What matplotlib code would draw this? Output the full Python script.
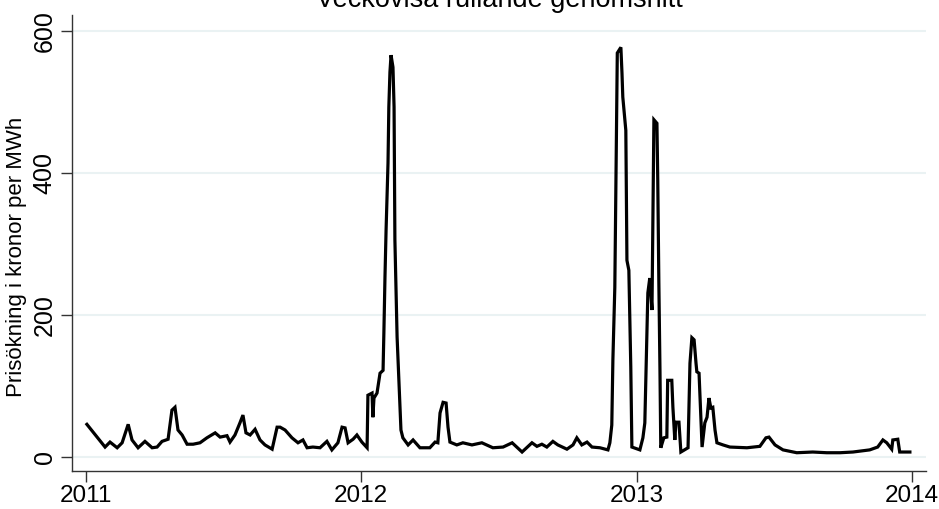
import matplotlib.pyplot as plt

# rolling weekly average
years = [2011.003, 2011.069, 2011.087, 2011.113, 2011.131, 2011.153, 2011.167, 2011.189,
         2011.214, 2011.240, 2011.258, 2011.276, 2011.298, 2011.312, 2011.323, 2011.334,
         2011.349, 2011.367, 2011.389, 2011.414, 2011.439, 2011.469, 2011.487, 2011.512,
         2011.523, 2011.541, 2011.559, 2011.570, 2011.581, 2011.596, 2011.614, 2011.632,
         2011.650, 2011.676, 2011.694, 2011.705, 2011.723, 2011.748, 2011.770, 2011.788,
         2011.803, 2011.824, 2011.850, 2011.875, 2011.893, 2011.915, 2011.930, 2011.941,
         2011.952, 2011.970, 2011.984, 2012.002, 2012.021, 2012.024, 2012.039, 2012.042,
         2012.046, 2012.057, 2012.068, 2012.079, 2012.082, 2012.086, 2012.090, 2012.097,
         2012.100, 2012.104, 2012.108, 2012.115, 2012.119, 2012.122, 2012.130, 2012.137,
         2012.144, 2012.151, 2012.170, 2012.188, 2012.213, 2012.249, 2012.268, 2012.278,
         2012.286, 2012.297, 2012.308, 2012.315, 2012.322, 2012.347, 2012.369, 2012.402,
         2012.438, 2012.478, 2012.515, 2012.548, 2012.584, 2012.620, 2012.638, 2012.656,
         2012.674, 2012.696, 2012.714, 2012.747, 2012.769, 2012.783, 2012.801, 2012.820,
         2012.838, 2012.867, 2012.896, 2012.903, 2012.910, 2012.914, 2012.921, 2012.925,
         2012.928, 2012.930, 2012.943, 2012.947, 2012.950, 2012.961, 2012.965, 2012.972,
         2012.979, 2012.983, 2013.012, 2013.023, 2013.030, 2013.038, 2013.041, 2013.048,
         2013.056, 2013.059, 2013.063, 2013.074, 2013.077, 2013.081, 2013.085, 2013.088,
         2013.099, 2013.110, 2013.113, 2013.128, 2013.132, 2013.139, 2013.143, 2013.154,
         2013.161, 2013.187, 2013.194, 2013.201, 2013.209, 2013.216, 2013.219, 2013.227,
         2013.238, 2013.248, 2013.256, 2013.263, 2013.270, 2013.277, 2013.285, 2013.292,
         2013.314, 2013.339, 2013.401, 2013.448, 2013.470, 2013.481, 2013.503, 2013.532,
         2013.582, 2013.640, 2013.691, 2013.739, 2013.786, 2013.847, 2013.876, 2013.895,
         2013.909, 2013.927, 2013.931, 2013.949, 2013.956, 2013.993]
prices = [46, 14, 21, 13, 20, 46, 24, 13,
          22, 13, 14, 22, 25, 66, 70, 38,
          31, 18, 18, 20, 27, 34, 28, 30,
          21, 31, 48, 59, 34, 31, 39, 24,
          17, 11, 42, 42, 38, 27, 20, 24,
          13, 14, 13, 22, 10, 20, 42, 41,
          20, 25, 31, 21, 13, 87, 90, 56,
          83, 90, 118, 122, 175, 254, 320, 414,
          493, 542, 566, 549, 493, 306, 169, 104,
          38, 27, 17, 24, 13, 13, 21, 20,
          62, 77, 76, 42, 21, 17, 20, 17,
          20, 13, 14, 20, 7, 20, 15, 18,
          14, 22, 17, 11, 17, 27, 17, 21,
          14, 13, 10, 20, 45, 137, 239, 390,
          517, 569, 577, 541, 507, 460, 277, 263,
          127, 14, 10, 27, 48, 179, 231, 252,
          207, 320, 475, 470, 390, 245, 123, 13,
          27, 28, 108, 108, 70, 24, 49, 49,
          7, 13, 132, 168, 165, 132, 120, 118,
          14, 48, 56, 83, 69, 70, 38, 20,
          17, 14, 13, 15, 27, 28, 17, 10,
          6, 7, 6, 6, 7, 10, 14, 24,
          20, 11, 24, 25, 7, 7]

xticks = [2011, 2012, 2013, 2014]
yticks = [0, 200, 400, 600]

plt.rcParams['font.family'] = ['Liberation Sans', 'DejaVu Sans']
fig = plt.figure(figsize=(9.39, 5.09), dpi=100)
ax = fig.add_axes([0.0767, 0.0747, 0.9093, 0.8958])

ax.plot(years, prices, color='black', lw=2.3, solid_joinstyle='miter')

ax.set_xlim(2010.949, 2014.051)
ax.set_ylim(-19.7, 622.5)
ax.set_xticks(xticks)
ax.set_yticks(yticks)
ax.set_xticklabels([str(t) for t in xticks], fontsize=17.5)
ax.set_yticklabels([str(t) for t in yticks], fontsize=18, rotation=90, va='center')
ax.tick_params(axis='both', direction='out', length=8, width=1, color='#333333', pad=3)
ax.tick_params(axis='x', pad=2)
ax.grid(axis='y', color='#eaf2f3', lw=1.5)
ax.set_axisbelow(True)
for s in ['top', 'right']:
    ax.spines[s].set_visible(False)
for s in ['left', 'bottom']:
    ax.spines[s].set_color('#333333')
    ax.spines[s].set_linewidth(1)

ax.set_ylabel('Prisökning i kronor per MWh', fontsize=16, labelpad=2)
ax.yaxis.set_label_coords(-0.053, 0.47)
fig.text(0.532, 1 - 7 / 509, 'Veckovisa rullande genomsnitt', fontsize=19.5,
         ha='center', va='baseline')

fig.savefig('out.png', dpi=100)
